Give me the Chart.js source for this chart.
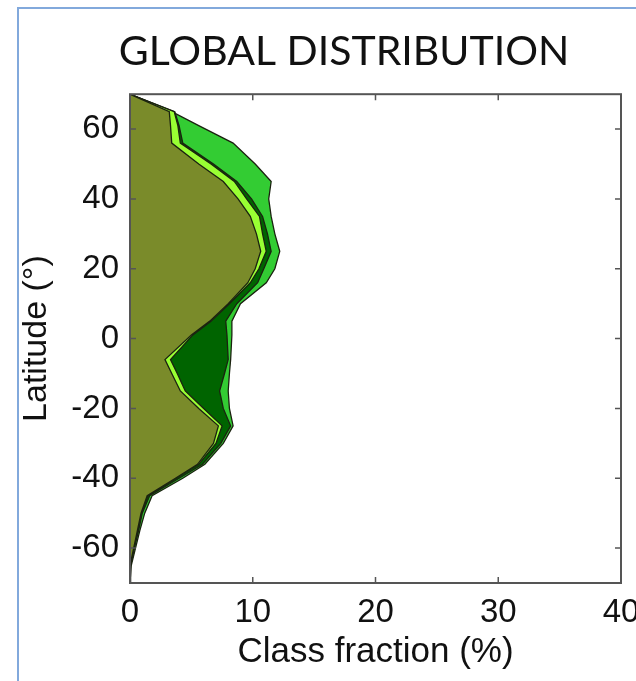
<!DOCTYPE html>
<html>
<head>
<meta charset="utf-8">
<script src="https://cdn.jsdelivr.net/npm/chart.js@4.4.0/dist/chart.umd.min.js"></script>
<style>
body { margin: 0; background: #fff; }
#wrap { position: relative; width: 636px; height: 681px; }
#frame { position: absolute; left: 17px; top: 7px; right: 0; bottom: 0;
  border-left: 2px solid #82a9dc; border-top: 2px solid #82a9dc; pointer-events: none; }
</style>
</head>
<body>
<div id="wrap">
  <canvas id="mainChart" width="636" height="681"></canvas>
  <div id="frame"></div>
</div>
<script>
// Latitude points (deg), south to north
var latitude = [-70, -65, -60, -55, -50, -45, -40, -36, -30, -25, -20, -15, -10, -6, 1, 5, 10, 16, 20, 25, 30, 35, 40, 45, 50, 56, 61, 65, 70];

// Cumulative class fraction (%) at each latitude, innermost class first
var oliveEdge  = [0, 0,    0.3,  0.6,  0.9,  1.4,  3.7,  5.5,  6.8,  7.2,  5.6,  4.1,  3.4,  2.85, 5.0,  6.5,  8.0,  9.6,  10.2, 10.65, 10.3, 9.8,  8.8,  7.6,  5.6,  3.4,  3.3,  3.2,  0];
var limeEdge   = [0, 0.02, 0.32, 0.62, 0.92, 1.45, 3.75, 5.6,  7.0,  7.5,  6.0,  4.5,  3.85, 3.3,  5.1,  6.6,  8.1,  9.8,  10.5, 11.1,  10.8, 10.55, 9.5, 8.5,  6.6,  4.1,  3.9,  3.6,  0];
var darkEdge   = [0, 0.05, 0.35, 0.7,  1.0,  1.6,  4.0,  5.9,  7.4,  8.2,  7.6,  7.3,  7.7,  8.0,  7.9,  7.8,  8.7,  10.4, 10.9, 11.5,  11.2, 10.8, 9.9,  8.7,  6.8,  4.3,  4.0,  3.65, 0];
var greenEdge  = [0, 0.1,  0.45, 0.8,  1.2,  1.8,  4.3,  6.1,  7.6,  8.4,  8.1,  8.0,  8.1,  8.2,  8.3,  8.3,  9.0,  11.1, 11.8, 12.2,  11.8, 11.5, 11.3, 11.5, 10.2, 8.4,  5.6,  3.4,  0];

var xTicks = [0, 10, 20, 30, 40];
var yTicks = [-60, -40, -20, 0, 20, 40, 60];

function toPoints(values) {
    return values.map(function (v, i) { return { x: v, y: latitude[i] }; });
}

function layer(values, color) {
    return {
        data: toPoints(values),
        backgroundColor: color,
        borderColor: '#1b2210',
        borderWidth: 1.3,
        pointRadius: 0,
        tension: 0,
        fill: 'origin'
    };
}

// box round the plot with inward ticks on all four sides
var boxPlugin = {
    id: 'box',
    afterDatasetsDraw: function (chart) {
        var a = chart.chartArea, ctx = chart.ctx;
        var xs = chart.scales.x, ys = chart.scales.y;
        ctx.save();
        ctx.strokeStyle = '#555';
        ctx.lineWidth = 2;
        ctx.strokeRect(a.left, a.top, a.right - a.left, a.bottom - a.top);
        ctx.lineWidth = 1.5;
        ctx.beginPath();
        xTicks.forEach(function (v) {
            var p = xs.getPixelForValue(v);
            ctx.moveTo(p, a.bottom); ctx.lineTo(p, a.bottom - 6);
            ctx.moveTo(p, a.top); ctx.lineTo(p, a.top + 6);
        });
        yTicks.forEach(function (v) {
            var p = ys.getPixelForValue(v);
            ctx.moveTo(a.left, p); ctx.lineTo(a.left + 6, p);
            ctx.moveTo(a.right, p); ctx.lineTo(a.right - 6, p);
        });
        ctx.stroke();
        ctx.restore();
    }
};

var sans = "'Liberation Sans', Arial, sans-serif";

var ctx = document.getElementById('mainChart').getContext('2d');
var chart = new Chart(ctx, {
    type: 'line',
    data: {
        datasets: [
            layer(oliveEdge, '#7a8b2a'),
            layer(limeEdge, '#99ff33'),
            layer(darkEdge, '#006400'),
            layer(greenEdge, '#33cc33')
        ]
    },
    options: {
        indexAxis: 'y',
        responsive: false,
        animation: false,
        layout: { padding: { left: 67, right: 15, top: 0, bottom: 0 } },
        plugins: {
            legend: { display: false },
            tooltip: { enabled: false },
            title: {
                display: true,
                text: 'GLOBAL DISTRIBUTION',
                color: '#111',
                font: { family: 'Lato', size: 41, weight: 'normal' },
                padding: { top: 27, bottom: 18 }
            }
        },
        scales: {
            x: {
                type: 'linear',
                min: 0, max: 40,
                afterBuildTicks: function (s) { s.ticks = xTicks.map(function (v) { return { value: v }; }); },
                afterFit: function (s) { s.height = 98; s.paddingLeft = 0; s.paddingRight = 0; },
                grid: { display: false, drawTicks: false },
                border: { display: false },
                ticks: { color: '#111', font: { family: sans, size: 33 }, padding: 10, maxRotation: 0 },
                title: { display: true, text: 'Class fraction (%)', color: '#111',
                         font: { family: sans, size: 35 }, padding: { top: 0, bottom: 8 } }
            },
            y: {
                type: 'linear',
                min: -70, max: 70,
                afterBuildTicks: function (s) { s.ticks = yTicks.map(function (v) { return { value: v }; }); },
                afterFit: function (s) { s.width = 63; s.paddingTop = 0; s.paddingBottom = 0; },
                grid: { display: false, drawTicks: false },
                border: { display: false },
                ticks: { color: '#111', font: { family: sans, size: 33 }, padding: 11 },
                title: { display: true, text: 'Latitude (°)', color: '#111',
                         font: { family: sans, size: 34 }, padding: { top: -51, bottom: 0 } }
            }
        }
    },
    plugins: [boxPlugin]
});
</script>
</body>
</html>
